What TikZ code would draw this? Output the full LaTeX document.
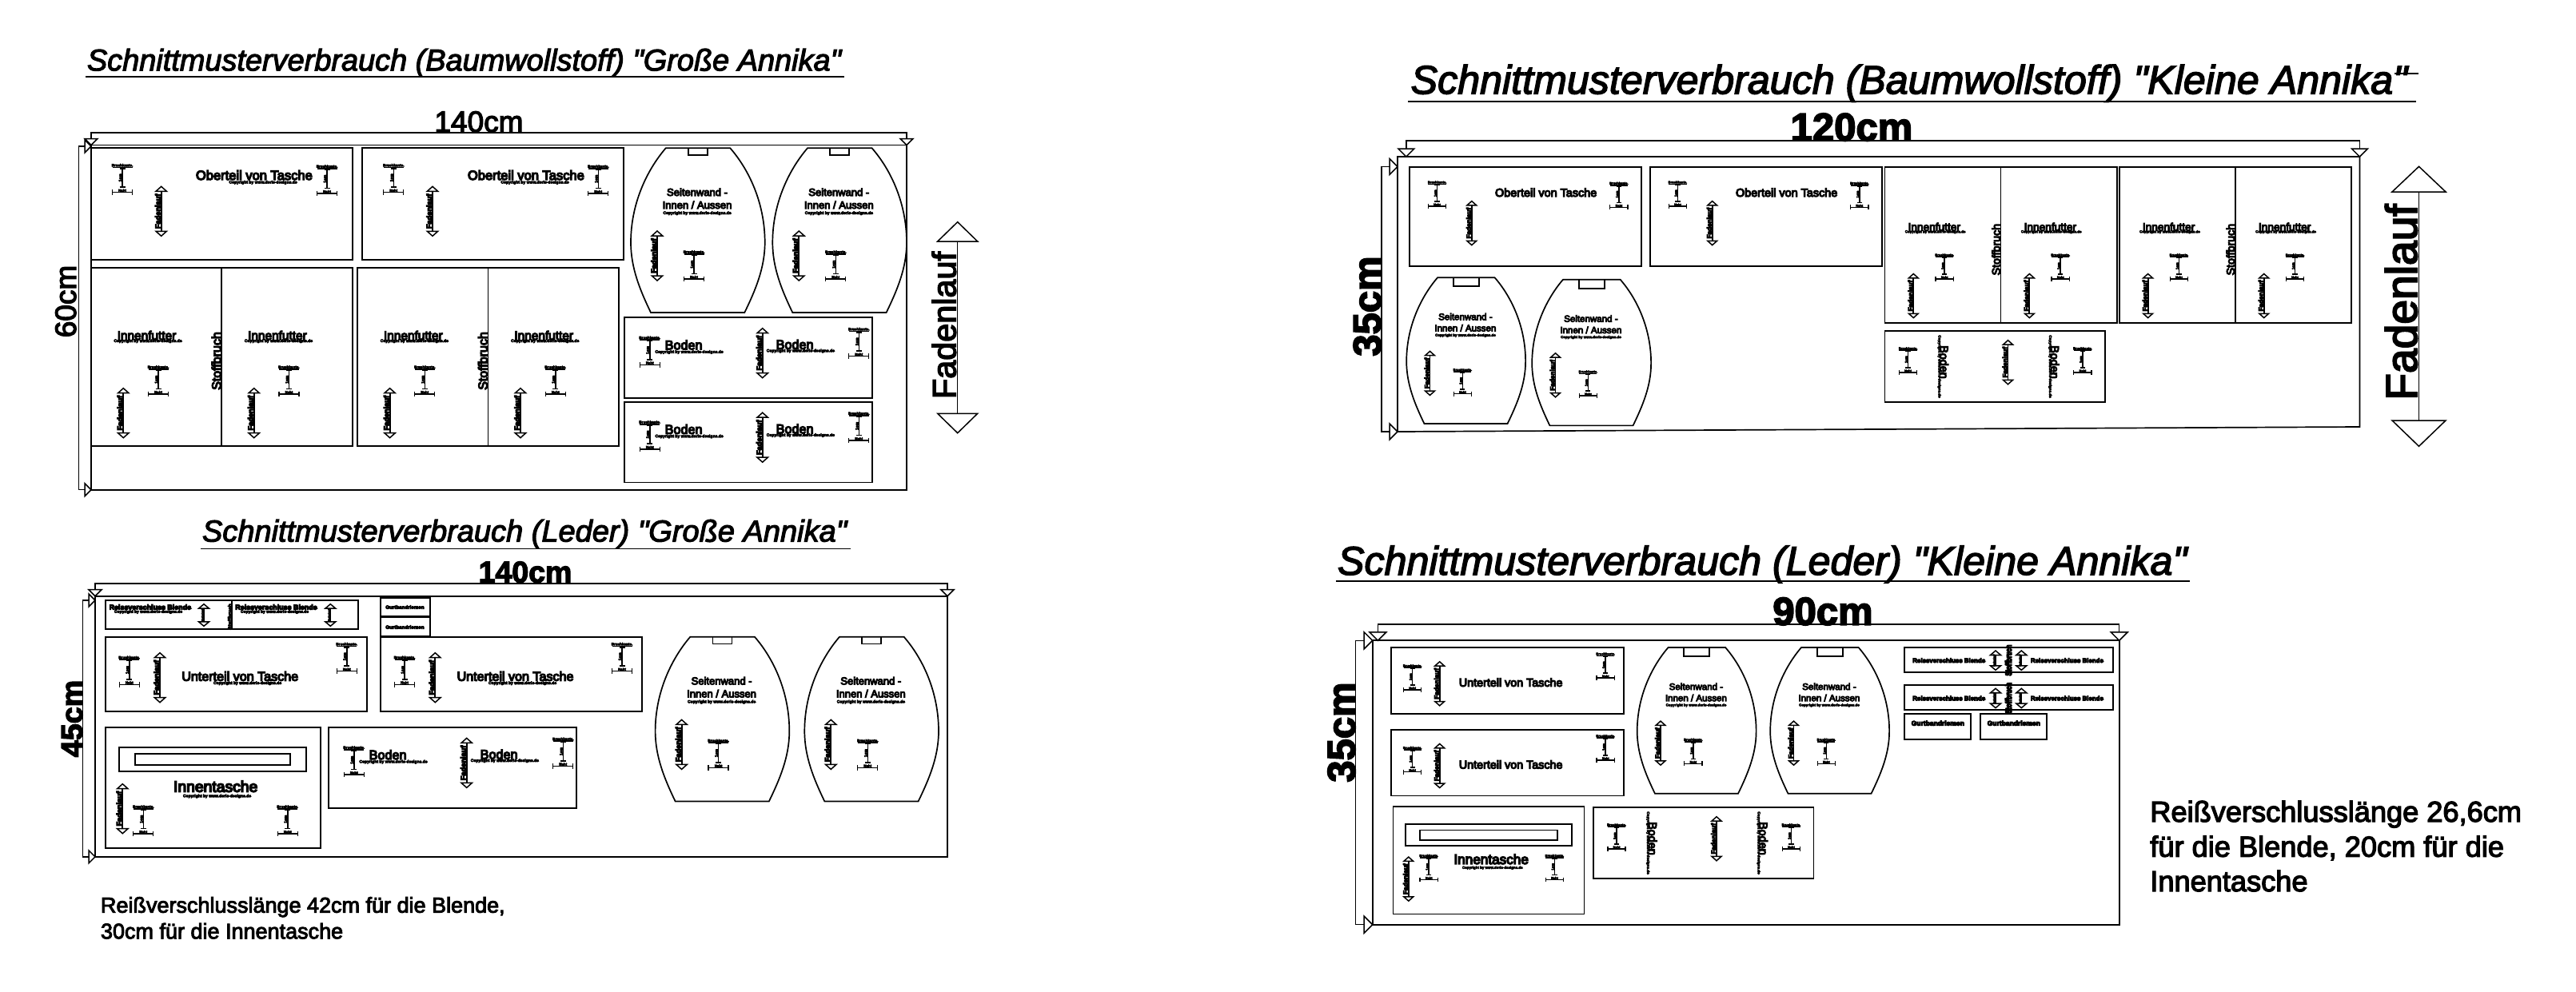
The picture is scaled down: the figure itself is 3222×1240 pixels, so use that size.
\documentclass[tikz,border=0pt]{standalone}
\usepackage{fontspec}
\setmainfont{Liberation Sans}
\newfontfamily\rgf[FakeBold=3.5]{Liberation Sans}
\newfontfamily\mdf[FakeBold=8]{Liberation Sans}
\newfontfamily\hvy[FakeBold=12]{Liberation Sans}
\newfontfamily\itf[ItalicFont={Liberation Sans Italic},ItalicFeatures={FakeBold=3}]{Liberation Sans}
\newcommand{\hv}{\hvy\bfseries}
\newcount\tid
\tikzset{
  pl/.style={line width=1.7pt,black},
  thin line/.style={line width=1.5pt,black},
  tri/.style={line width=1.5pt,black,fill=white,line join=miter},
  txt/.style={inner sep=0pt,outer sep=0pt,anchor=base west,text=black},
  cen/.style={anchor=base},
  rot/.style={rotate=90,anchor=base},
  rotm/.style={rotate=-90,anchor=base}
}
% text node
\newcommand{\tT}[5][]{\global\advance\tid by 1
  \node[txt,#1] (t\the\tid) at ({#2},{#3}) {\rgf\fontsize{#4}{#4}\selectfont #5};}
\newcommand{\cPy}[2]{\tT[cen]{#1}{#2}{5}{\hv Copyright by www.doris-designs.de}}
% box
\newcommand{\bX}[4]{\draw[pl] (#1,#2) rectangle (#3,#4);}
% I-shaped measure mark
\newcommand{\mK}[3]{\begin{scope}[shift={(#1,#2)},scale=#3,transform shape]
  \tT[cen]{0}{4}{4.6}{\hv Bruchkante.}
  \draw[line width=1.8pt] (-12.5,5.2) -- (12.5,5.2);
  \draw[line width=1.6pt] (-3.5,6.4) -- (3.5,6.4);
  \draw[line width=1.6pt] (0,6.4) -- (0,29.7);
  \draw[line width=1.6pt] (-3.5,29.7) -- (3.5,29.7);
  \tT[rot]{-0.8}{18}{5}{\hv 1cm}
  \tT[cen]{0}{35.5}{4.4}{\hv Naht}
  \draw[line width=1.6pt] (-12.5,36.3) -- (12.5,36.3);
  \draw[line width=1.3pt] (-12.5,33) -- (-12.5,39.6);
  \draw[line width=1.3pt] (12.5,33) -- (12.5,39.6);
\end{scope}}
% grain arrow
\newcommand{\aG}[3]{\begin{scope}[shift={(#1,#2)},scale=#3,transform shape]
  \draw[line width=1.9pt] (0,6) -- (0,56);
  \draw[tri] (0,0) -- (6.7,6) -- (-6.7,6) -- cycle;
  \draw[tri] (0,62) -- (6.7,56) -- (-6.7,56) -- cycle;
  \tT[rot]{-1}{31}{9.2}{\hv Fadenlauf}
\end{scope}}
\newcommand{\aS}[3]{
  \draw[line width=1.9pt] (#1,#2+5) -- (#1,#3-5);
  \draw[tri] (#1,#2) -- (#1+6.5,#2+5.5) -- (#1-6.5,#2+5.5) -- cycle;
  \draw[tri] (#1,#3) -- (#1+6.5,#3-5.5) -- (#1-6.5,#3-5.5) -- cycle;
  \tT[rot]{#1-0.8}{(#2+#3)/2}{3.2}{\hv Fadenlauf}}
% side wall: origin top left corner of flat top
\newcommand{\sW}[5]{\begin{scope}[shift={(#1,#2)},scale=#3,transform shape]
  \draw[pl] (0,0) -- (80.6,0) .. controls (105,28) and (124,70) .. (124,118)
    .. controls (124,150) and (112,178) .. (98.6,205.7) -- (-18.7,205.7)
    .. controls (-32,178) and (-43.7,150) .. (-43.7,118)
    .. controls (-43.7,70) and (-24,28) .. (0,0) -- cycle;
  \draw[pl] (40.3-#4,0) -- (40.3-#4,#5) -- (40.3+#4,#5) -- (40.3+#4,0);
  \tT[cen]{39.3}{59.7}{13}{\mdf Seitenwand -}
  \tT[cen]{39.3}{75.7}{13}{\mdf Innen / Aussen}
  \cPy{39.3}{82.7}
  \aG{-10.7}{103.7}{1}
  \mK{35.3}{127.4}{1}
\end{scope}}
% Oberteil
\newcommand{\oT}[3]{\begin{scope}[shift={(#1,#2)},scale=#3,transform shape]
  \bX{0}{0}{327}{140.3}
  \mK{39}{19.3}{1}\mK{295}{20.7}{1}\aG{87.7}{48.3}{1}
\end{scope}}
% Unterteil
\newcommand{\uT}[3]{\begin{scope}[shift={(#1,#2)},scale=#3,transform shape]
  \bX{0}{0}{327.3}{93.3}
  \mK{30}{23.3}{1}\mK{302}{6.6}{1}\aG{68.3}{20}{1}
  \tT{95.6}{55}{16.1}{\mdf Unterteil von Tasche}
\end{scope}}
% Innenfutter
\newcommand{\iF}[4]{\begin{scope}[shift={(#1,#2)},scale=#3,transform shape]
  \bX{0}{0}{327}{#4}
  \draw[pl] (163.3,0) -- (163.3,#4);
  \foreach \dd in {0,163.4}{
    \tT{32.7+\dd}{90}{15.4}{\mdf Innenfutter}
    \cPy{71+\dd}{93}
    \mK{84+\dd}{121.7}{1}
    \aG{40.3+\dd}{150.7}{1}
  }
  \tT[rot]{162.3}{116.5}{16}{\mdf Stoffbruch}
\end{scope}}
% Innentasche
\newcommand{\iT}[7]{\begin{scope}[shift={(#1,#2)},scale=#3,transform shape]
  \bX{0}{0}{269}{151}
  \bX{17}{24.7}{251.6}{54.7}
  \bX{37.3}{32.7}{231.6}{46.7}
  \tT[cen]{138}{80.7}{19.3}{\mdf Innentasche}
  \cPy{139.8}{87.3}
  \aG{21.6}{70.7}{1}
  \mK{#4}{#5}{1}\mK{#6}{#7}{1}
\end{scope}}
% Boden flat
\newcommand{\bF}[2]{\begin{scope}[shift={(#1,#2)}]
  \bX{0}{0}{310.6}{100.7}
  \mK{32}{22.7}{1}\mK{293.6}{12}{1}\aG{173}{13.4}{1}
  \tT{51}{40}{16.2}{\mdf Boden}\cPy{81.3}{44.4}
  \tT{190}{39.4}{16.2}{\mdf Boden}\cPy{220.6}{43}
\end{scope}}
% Boden rotated text
\newcommand{\bR}[2]{\begin{scope}[shift={(#1,#2)}]
  \bX{0}{0}{275.4}{89}
  \mK{29}{19.7}{0.888}\mK{247.4}{19.7}{0.888}\aG{154}{11.7}{0.888}
  \tT[rotm]{69}{39}{14.4}{\mdf Boden}
  \tT[rotm]{67}{44.5}{4.6}{\hv Copyright by www.doris-designs.de}
  \tT[rotm]{207.5}{39}{14.4}{\mdf Boden}
  \tT[rotm]{205.5}{44.5}{4.6}{\hv Copyright by www.doris-designs.de}
\end{scope}}
% dimension brackets
\newcommand{\dH}[5]{% x1 x2 ytop ytip hw
  \draw[thin line] (#1,#4) -- (#1,#3) -- (#2,#3) -- (#2,#4);
  \draw[tri] (#1,#4) -- (#1-#5,#4-#5) -- (#1+#5,#4-#5) -- cycle;
  \draw[tri] (#2,#4) -- (#2-#5,#4-#5) -- (#2+#5,#4-#5) -- cycle;}
\newcommand{\dV}[5]{% y1 y2 xleft xtip hw
  \draw[thin line] (#4,#1) -- (#3,#1) -- (#3,#2) -- (#4,#2);
  \draw[tri] (#4,#1) -- (#4-#5,#1-#5) -- (#4-#5,#1+#5) -- cycle;
  \draw[tri] (#4,#2) -- (#4-#5,#2-#5) -- (#4-#5,#2+#5) -- cycle;}
\newcommand{\tTi}[4]{\tT{#1}{#2}{#3}{\itf\itshape #4}}

\begin{document}
\begin{tikzpicture}[x=1pt,y=-1pt]
\fill[white] (0,0) rectangle (3222,1240);
\useasboundingbox (0,0) rectangle (3222,1240);

%%%% PANEL A %%%%
\tTi{109}{88.3}{37.9}{Schnittmusterverbrauch (Baumwollstoff) "Große Annika"}
\draw[pl] (107,95.7) -- (1056,95.7);
\tT[cen]{599}{165}{37}{140cm}
\draw[pl] (114,181.5) rectangle (1134,612.7);
\dH{114}{1134}{166}{181.5}{8}
\dV{183}{612.7}{98.3}{114}{8}
\tT[rot]{95}{377}{37}{60cm}
\oT{114}{185}{1}
\tT{245}{225}{16.5}{\mdf Oberteil von Tasche}\cPy{329}{229.5}
\oT{453.3}{185}{1}
\tT{585}{225}{16.5}{\mdf Oberteil von Tasche}\cPy{669}{229.5}
\iF{114}{335}{1}{222.7}
\iF{447.3}{335}{1}{222.7}
\sW{832.7}{185.3}{1}{12}{8.7}
\sW{1010}{185.3}{1}{12}{8.7}
\bF{780.7}{397.3}
\bF{780.7}{502.8}
% big Fadenlauf
\draw[thin line] (1197.7,302) -- (1197.7,517.3);
\draw[tri] (1197.7,277.7) -- (1222.7,302) -- (1172.7,302) -- cycle;
\draw[tri] (1197.7,541.7) -- (1222.7,517.3) -- (1172.7,517.3) -- cycle;
\tT[rot]{1195.5}{407}{41.4}{Fadenlauf}

%%%% PANEL C %%%%
\tTi{253}{677.5}{38}{Schnittmusterverbrauch (Leder) "Große Annika"}
\draw[pl] (251,686.4) -- (1064,686.4);
\tT[cen]{657}{728.6}{37.5}{\bfseries 140cm}
\draw[pl] (119,745.7) rectangle (1185,1071.8);
\dH{119}{1185}{730}{745.7}{8}
\dV{751}{1071.8}{103.7}{119}{8}
\tT[rot]{103}{899}{37.7}{\bfseries 45cm}
% Blende
\bX{131.7}{751}{448}{786.7}
\draw[pl] (290,751) -- (290,786.7);
\tT[rot]{289.7}{771.5}{6.4}{\hv Stoffbruch}
\tT{136.7}{762.7}{8.9}{\hv Reissverschluss Blende}\cPy{185.5}{766.7}
\tT{294.3}{762.7}{8.9}{\hv Reissverschluss Blende}\cPy{343.5}{766.7}
\aS{255}{755.7}{783.3}
\aS{413.3}{755.7}{783.3}
% straps
\bX{476}{747.7}{538.3}{771}
\bX{476}{772.3}{538.3}{795.7}
\tT{482.3}{761.7}{6.2}{\hv Gurtbandriemen}
\tT{482.3}{786.7}{6.2}{\hv Gurtbandriemen}
\uT{131.7}{796.7}{1}
\cPy{309.5}{856}
\uT{476}{796.7}{1}
\cPy{653.5}{856}
\iT{131.7}{910}{1}{47.6}{96.7}{228}{96.7}
\bF{410.7}{910}
\sW{863.3}{796.7}{1}{12}{8.7}
\sW{1050}{796.7}{1}{12}{8.7}
\tT{126}{1141.7}{27}{Reißverschlusslänge 42cm für die Blende,}
\tT{126}{1174.3}{27}{30cm für die Innentasche}

%%%% PANEL B %%%%
\tTi{1764.6}{117.3}{50.2}{Schnittmusterverbrauch (Baumwollstoff) "Kleine Annika"}
\draw[pl] (1761,127.3) -- (3021.6,127.3);
\draw[pl] (2995,91.7) -- (3025,91.7);
\tT[cen]{2316}{176}{49}{\bfseries 120cm}
\draw[pl] (1748,196) -- (2951.4,196) -- (2951.4,534) -- (1748,540) -- cycle;
\dH{1758.8}{2951.4}{176}{196}{10}
\dV{208.5}{540}{1728}{1748}{10}
\tT[rot]{1727}{383}{49}{\bfseries 35cm}
\oT{1762.9}{208.7}{0.888}
\tT{1870}{246}{14.4}{\mdf Oberteil von Tasche}
\oT{2063.8}{208.7}{0.888}
\tT{2171}{246}{14.4}{\mdf Oberteil von Tasche}
\sW{1798}{347.3}{0.888}{18}{12.4}
\sW{1955}{349.7}{0.888}{18}{12.4}
\iF{2357.5}{208.7}{0.888}{220}
\iF{2650.8}{208.7}{0.888}{220}
\bR{2357.5}{414}
% big Fadenlauf (B)
\draw[thin line] (3025.5,240) -- (3025.5,526);
\draw[tri] (3025.5,208.3) -- (3059,240) -- (2992,240) -- cycle;
\draw[tri] (3025.5,558.3) -- (3059,526) -- (2992,526) -- cycle;
\tT[rot]{3023}{378}{55.2}{Fadenlauf}

%%%% PANEL D %%%%
\tTi{1673}{719}{50.2}{Schnittmusterverbrauch (Leder) "Kleine Annika"}
\draw[pl] (1671,727) -- (2739,727);
\tT[cen]{2280}{781.7}{49}{\bfseries 90cm}
\draw[pl] (1716.7,801.3) rectangle (2650.7,1156.7);
\dH{1723.4}{2650.7}{781}{801.3}{10.5}
\dV{801.3}{1156.7}{1695.7}{1716.7}{10.5}
\tT[rot]{1694.8}{916}{49}{\bfseries 35cm}
\uT{1740}{810}{0.888}
\uT{1740}{912.7}{0.888}
\sW{2086.5}{810}{0.888}{18}{12.4}
\sW{2253}{810}{0.888}{18}{12.4}
\iT{1742.6}{1009.3}{0.888}{50.2}{66.4}{227.3}{66.4}
\bR{1993}{1010}
% Blende small
\foreach \yy in {810,857.3}{
  \bX{2381.7}{\yy}{2643}{\yy+31}
  \draw[pl] (2512,\yy-1) -- (2512,\yy+31);
  \tT[rot]{2516}{\yy+16}{11}{\hv\scalebox{0.7}[1]{Stoffbruch}}
  \tT{2392.3}{\yy+19}{7.9}{\hv Reissverschluss Blende}
  \tT{2540}{\yy+19}{7.9}{\hv Reissverschluss Blende}
  \aS{2496}{\yy+4}{\yy+28.3}
  \aS{2528.3}{\yy+4}{\yy+28.3}
}
\bX{2381.7}{893.3}{2465}{925}
\bX{2476.7}{893.3}{2559.7}{925}
\tT{2390.7}{907.7}{8.5}{\hv Gurtbandriemen}
\tT{2485.7}{907.7}{8.5}{\hv Gurtbandriemen}
\tT{2689.3}{1028}{36.2}{Reißverschlusslänge 26,6cm}
\tT{2689.3}{1071.7}{36.2}{für die Blende, 20cm für die}
\tT{2689.3}{1115}{36.2}{Innentasche}
\end{tikzpicture}
\end{document}
